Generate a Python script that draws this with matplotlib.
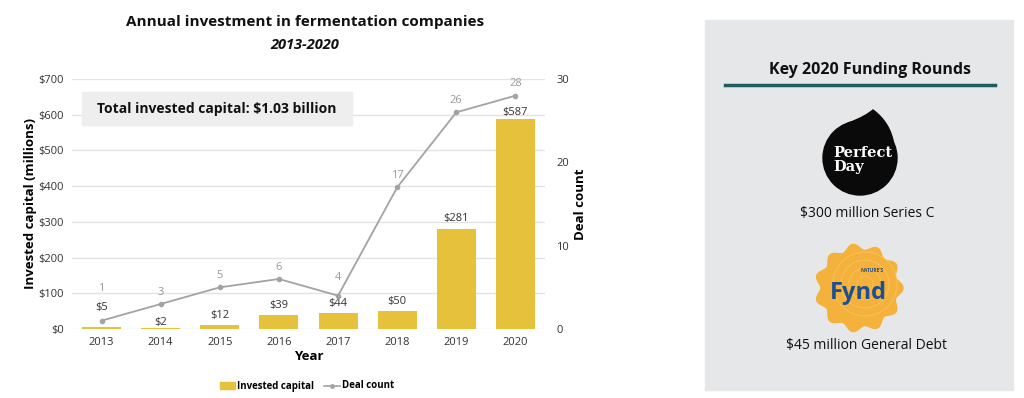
import numpy as np
import matplotlib
matplotlib.use("Agg")
import matplotlib.pyplot as plt
from matplotlib.patches import Rectangle, Circle, PathPatch, Polygon
from matplotlib.path import Path
from matplotlib.lines import Line2D

years = ["2013", "2014", "2015", "2016", "2017", "2018", "2019", "2020"]
invested = [5, 2, 12, 39, 44, 50, 281, 587]
deals = [1, 3, 5, 6, 4, 17, 26, 28]
cap_ticks = [0, 100, 200, 300, 400, 500, 600, 700]
deal_ticks = [0, 10, 20, 30]

# label offsets in points (styling only)
bar_lab_off = [10, 0, 3, 3, 3, 3, 3, 1]
deal_lab_off = [19, 4.5, 4.5, 4.5, 9, 4.5, 4.5, 4.5]

plt.rcParams['font.family'] = ['Open Sans', 'DejaVu Sans']

W, H = 1024, 398
fig = plt.figure(figsize=(W / 100, H / 100), dpi=100)

ax = fig.add_axes([72 / W, 1 - 329 / H, (545 - 72) / W, (329 - 79) / H])
x = np.arange(len(years))
bar_color = "#e6c13c"
line_color = "#a3a3a3"
ax.bar(x, invested, width=0.66, color=bar_color, zorder=2)
ax.set_xlim(-0.5, len(years) - 0.5)
ax.set_ylim(0, 700)
ax.set_yticks(cap_ticks)
ax.set_yticklabels([f"${v}" for v in cap_ticks])
ax.set_xticks(x)
ax.set_xticklabels(years)
ax.tick_params(axis='both', length=0, labelsize=8, colors="#333333", pad=6)
ax.grid(axis='y', color="#e3e3e3", linewidth=1, zorder=0)
for s in ax.spines.values():
    s.set_visible(False)
ax.set_ylabel("Invested capital (millions)", fontsize=9.5, fontweight='bold', labelpad=1)
ax.set_xlabel("Year", fontsize=9.5, fontweight='bold', labelpad=1)
for xi, v, off in zip(x, invested, bar_lab_off):
    ax.annotate(f"${v}", (xi, v), xytext=(0, off), textcoords='offset points',
                ha='center', va='bottom', fontsize=8, color="#333333")

ax2 = ax.twinx()
ax2.plot(x, deals, color=line_color, linewidth=1.3, marker='o', markersize=3, zorder=3)
ax2.set_ylim(0, 30)
ax2.set_yticks(deal_ticks)
ax2.tick_params(axis='y', length=0, labelsize=8, colors="#333333", pad=8)
for s in ax2.spines.values():
    s.set_visible(False)
ax2.set_ylabel("Deal count", fontsize=9.5, fontweight='bold', labelpad=4)
for xi, d, off in zip(x, deals, deal_lab_off):
    ax2.annotate(str(d), (xi, d), xytext=(0, off), textcoords='offset points',
                 ha='center', va='bottom', fontsize=8, color="#9a9a9a")

# decoration overlay in pixel coordinates
deco = fig.add_axes([0, 0, 1, 1], zorder=5)
deco.set_xlim(0, W)
deco.set_ylim(H, 0)
deco.axis('off')
deco.patch.set_alpha(0)

deco.text(305, 22, "Annual investment in fermentation companies", ha='center', va='center',
          fontsize=11, fontweight='bold', color="#111111")
deco.text(305, 45, "2013-2020", ha='center', va='center', fontsize=10.5,
          fontweight='bold', style='italic', color="#111111")

deco.add_patch(Rectangle((82, 92), 270, 33, color="#eeeeee", zorder=1))
deco.text(217, 108.5, "Total invested capital: $1.03 billion", ha='center', va='center',
          fontsize=10, fontweight='bold', color="#111111", zorder=2)

# legend
deco.add_patch(Rectangle((220, 382), 15, 7, color=bar_color))
deco.text(237, 386, "Invested capital", ha='left', va='center', fontsize=7, fontweight='bold')
deco.add_line(Line2D([324, 340], [386, 386], color=line_color, linewidth=1.2))
deco.plot([332], [386], marker='o', markersize=2.5, color=line_color)
deco.text(342, 386, "Deal count", ha='left', va='center', fontsize=7, fontweight='bold')

# right panel
deco.add_patch(Rectangle((705, 20), 308, 370, color="#e6e7e9", zorder=0))
deco.text(870, 70, "Key 2020 Funding Rounds", ha='center', va='center',
          fontsize=11.5, fontweight='bold', color="#111111")
deco.add_line(Line2D([725, 995], [85, 85], color="#1e5c60", linewidth=2.5))

# Perfect Day logo
cx, cy, r = 860, 158, 37
deco.add_patch(Circle((cx, cy), r, color="#0a0a0a", zorder=2))
verts = [(846, 124), (862, 118), (868, 114), (873, 110),
         (884, 118), (892, 130), (894, 146), (860, 158), (846, 124)]
codes = [Path.MOVETO, Path.CURVE4, Path.CURVE4, Path.CURVE4,
         Path.CURVE4, Path.CURVE4, Path.CURVE4, Path.LINETO, Path.CLOSEPOLY]
deco.add_patch(PathPatch(Path(verts, codes), facecolor="#0a0a0a", edgecolor="#0a0a0a", zorder=2))
deco.text(833, 153, "Perfect", ha='left', va='center', fontsize=10.5, fontweight='bold',
          family='DejaVu Serif', color='white', zorder=3)
deco.text(833, 167, "Day", ha='left', va='center', fontsize=10.5, fontweight='bold',
          family='DejaVu Serif', color='white', zorder=3)
deco.text(867, 213, "$300 million Series C", ha='center', va='center', fontsize=10, color="#111111")

# Fynd logo
th = np.linspace(0, 2 * np.pi, 600)
rr = 41 + 3 * np.cos(11 * th)
fx, fy = 859, 288
deco.add_patch(Polygon(np.column_stack([fx + rr * np.cos(th), fy + rr * np.sin(th)]),
                       closed=True, color="#f4b13c", zorder=2))
for k in range(1, 5):
    rk = 8 * k
    deco.add_patch(Circle((fx + 6, fy - 4), rk, fill=False, edgecolor="#f8c45e", linewidth=0.6, zorder=2))
deco.text(858, 293, "Fynd", ha='center', va='center', fontsize=17, fontweight='bold',
          color="#1d4f91", zorder=3)
deco.text(872, 271, "NATURE'S", ha='center', va='center', fontsize=3.5, fontweight='bold',
          color="#1d4f91", zorder=3)
deco.text(867, 345, "$45 million General Debt", ha='center', va='center', fontsize=10, color="#111111")

fig.savefig("out.png", dpi=100)
